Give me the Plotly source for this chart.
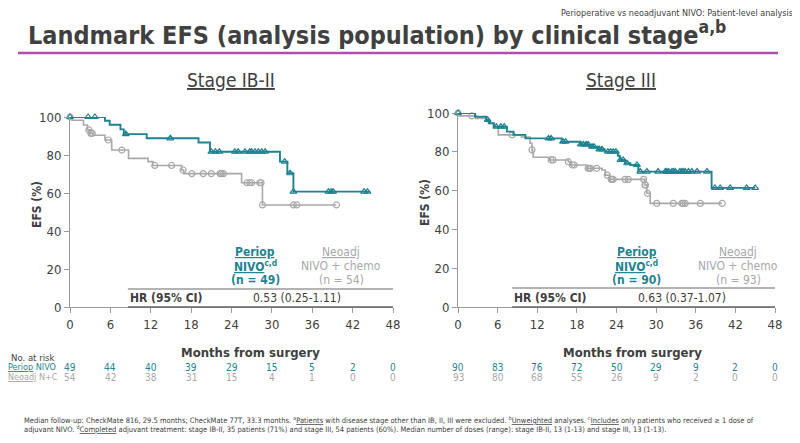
import numpy as np
import plotly.graph_objects as go

# ---------------- data ----------------
risk_times = [0, 6, 12, 18, 24, 30, 36, 42, 48]

# Stage IB-II
periop_l_t = [0, 5.2, 5.9, 7.5, 8.0, 11.4, 19.1, 20.8, 31.2, 32.3, 33.2]
periop_l_s = [100, 98.0, 95.9, 93.5, 91.0, 88.8, 86.6, 81.7, 76.5, 70.4, 60.7]
periop_l_end = 44.6
periop_l_c = [0, 2.7, 3.7, 8.3, 14.9, 21.0, 21.6, 22.2, 24.5, 25.0, 26.0, 26.7, 27.0,
              27.5, 28.0, 28.5, 29.0, 31.9, 32.7, 33.2, 38.4, 38.8, 39.1, 43.7, 44.2]

neo_l_t = [0, 0.3, 2.0, 2.6, 3.0, 3.4, 5.2, 6.2, 8.7, 11.6, 12.3, 16.6, 16.9, 25.5, 28.6]
neo_l_s = [100, 98.3, 95.8, 93.2, 91.4, 90.4, 87.9, 82.6, 78.2, 76.5, 74.5, 72.1, 70.2, 65.4, 53.7]
neo_l_end = 39.6
neo_l_c = [0, 2.8, 3.1, 3.3, 5.7, 7.7, 12.6, 15.1, 16.8, 18.1, 19.8, 21.0, 22.3, 22.5,
           22.8, 26.3, 26.7, 27.0, 28.2, 28.4, 28.6, 33.2, 33.7, 39.6]

periop_l_risk = [49, 44, 40, 39, 29, 15, 5, 2, 0]
neo_l_risk = [54, 42, 38, 31, 15, 4, 1, 0, 0]

# Stage III
periop_r_t = [0, 2.6, 4.3, 4.7, 5.4, 7.4, 8.4, 10.2, 15.7, 18.5, 19.9, 21.2, 22.2,
              24.2, 24.5, 25.3, 26.1, 27.3, 38.4]
periop_r_s = [100, 98.1, 96.4, 94.7, 92.9, 90.4, 88.7, 86.9, 85.2, 83.8, 82.6, 81.3, 80.1,
              78.0, 75.8, 74.1, 73.2, 69.8, 61.4]
periop_r_end = 45.0
periop_r_c = [0, 4.5, 5.8, 6.5, 7.0, 13.7, 14.1, 15.9, 16.3, 18.6, 19.0, 19.4, 19.7, 20.3,
              20.6, 21.4, 21.8, 22.7, 23.1, 23.5, 23.9, 24.6, 25.0, 25.6, 27.1, 27.6, 28.6,
              30.3, 31.4, 31.6, 31.9, 32.4, 32.6, 32.9, 33.6, 33.9, 34.1, 34.4, 34.9, 35.4,
              36.2, 37.7, 38.9, 39.7, 41.2, 43.7, 45.0]

neo_r_t = [0, 0.2, 2.7, 4.3, 4.6, 5.5, 6.1, 9.6, 10.9, 11.2, 11.3, 11.4, 13.9, 16.7, 17.0,
           19.5, 21.8, 22.3, 22.9, 28.3, 28.6, 29.1]
neo_r_s = [100, 98.5, 97.2, 95.9, 94.7, 92.9, 88.7, 87.6, 84.4, 81.0, 79.4, 77.2, 75.8, 74.9,
           73.2, 71.5, 70.6, 68.0, 65.8, 62.9, 58.6, 53.4]
neo_r_end = 40.0
neo_r_c = [0, 2.1, 8.2, 11.2, 14.1, 14.4, 16.7, 17.3, 17.6, 19.7, 19.9, 20.1, 21.0, 22.6,
           23.2, 23.3, 23.5, 25.3, 25.8, 28.1, 28.3, 28.4, 28.7, 30.1, 32.6, 33.9, 34.1,
           34.4, 36.7, 40.0]

periop_r_risk = [90, 83, 76, 72, 50, 29, 9, 2, 0]
neo_r_risk = [93, 80, 68, 55, 26, 9, 2, 0, 0]

# ---------------- style ----------------
PAGE_W, PAGE_H, BODY = 800, 443, 8          # window size and default body margin
W, H = PAGE_W - 2 * BODY, PAGE_H - 2 * BODY
TEAL = "#1E8390"
GRAY = "#A8A8A8"
DARK = "#404040"
FONT = "DejaVu Sans Condensed, DejaVu Sans, sans-serif"


def px(x):
    return (x - BODY) / W


def py(y):
    return 1 - (y - BODY) / H


fig = go.Figure()


def add_km(t, s, end, cens, color, symbol, xa, ya, lw):
    t = np.asarray(t, float)
    s = np.asarray(s, float)
    xs = np.append(t, end)
    ys = np.append(s, s[-1])
    fig.add_trace(go.Scatter(x=xs, y=ys, mode="lines", line=dict(color=color, width=lw, shape="hv"),
                             xaxis=xa, yaxis=ya, cliponaxis=False, showlegend=False, hoverinfo="skip"))
    c = np.asarray(cens, float)
    idx = np.searchsorted(t, c, side="right") - 1
    fig.add_trace(go.Scatter(x=c, y=s[idx], mode="markers",
                             marker=dict(symbol=symbol, size=6, color=color, line=dict(color=color, width=1.2)),
                             xaxis=xa, yaxis=ya, cliponaxis=False, showlegend=False, hoverinfo="skip"))


add_km(neo_l_t, neo_l_s, neo_l_end, neo_l_c, GRAY, "circle-open", "x", "y", 1.6)
add_km(periop_l_t, periop_l_s, periop_l_end, periop_l_c, TEAL, "triangle-up-open", "x", "y", 1.9)
add_km(neo_r_t, neo_r_s, neo_r_end, neo_r_c, GRAY, "circle-open", "x2", "y2", 1.6)
add_km(periop_r_t, periop_r_s, periop_r_end, periop_r_c, TEAL, "triangle-up-open", "x2", "y2", 1.9)

axis_common = dict(showgrid=False, zeroline=False, showline=True, linecolor="#9A9A9A", linewidth=1,
                   ticks="outside", ticklen=5, tickcolor="#9A9A9A",
                   tickfont=dict(family=FONT, size=13, color=DARK))

fig.update_layout(
    width=W, height=H, margin=dict(l=0, r=0, t=0, b=0, autoexpand=False),
    paper_bgcolor="white", plot_bgcolor="white", showlegend=False,
    font=dict(family=FONT, color=DARK),
    xaxis=dict(domain=[px(70), px(393)], range=[0, 48], tickvals=risk_times, anchor="y", **axis_common),
    yaxis=dict(domain=[py(307), py(117)], range=[0, 100], tickvals=[0, 20, 40, 60, 80, 100], anchor="x",
               **axis_common),
    xaxis2=dict(domain=[px(458), px(775)], range=[0, 48], tickvals=risk_times, anchor="y2", **axis_common),
    yaxis2=dict(domain=[py(307), py(113)], range=[0, 100], tickvals=[0, 20, 40, 60, 80, 100], anchor="x2",
                **axis_common),
)

ann = []


def A(text, x, y, size, color=DARK, xanchor="center", yanchor="middle", xref="paper", angle=0):
    ann.append(dict(text=text, x=x, y=y, xref=xref, yref="paper", showarrow=False,
                    xanchor=xanchor, yanchor=yanchor, textangle=angle,
                    font=dict(family=FONT, size=size, color=color)))


# header
A("Perioperative vs neoadjuvant NIVO: Patient-level analysis", px(795), py(13), 9, xanchor="right")
A("<b>Landmark EFS (analysis population) by clinical stage<sup>a,b</sup></b>", px(26), py(34), 25,
  xanchor="left")
A("<u>Stage IB-II</u>", px(231), py(80), 19)
A("<u>Stage III</u>", px(621), py(80), 19)

# axis titles
A("<b>EFS (%)</b>", px(37), py(205), 12, angle=-90)
A("<b>EFS (%)</b>", px(425), py(203), 12, angle=-90)
A("<b>Months from surgery</b>", px(250), py(352), 13)
A("<b>Months from surgery</b>", px(632), py(352), 13)

# HR boxes
for xr, xstart, ytop, hr, nper, nneo, cx_per, cx_neo, cx_hr in [
    ("x", 8.6, 289, "0.53 (0.25-1.11)", 49, 54, 27.5, 40.3, 33.7),
    ("x2", 8.2, 288, "0.63 (0.37-1.07)", 90, 93, 27.1, 42.4, 33.9),
]:
    A("<b><u>Periop</u></b>", cx_per, py(252), 12, TEAL, xref=xr)
    A("<b><u>NIVO</u><sup>c,d</sup></b>", cx_per, py(266), 12, TEAL, xref=xr)
    A(f"<b>(n = {nper})</b>", cx_per, py(280), 12, TEAL, xref=xr)
    A("<u>Neoadj</u>", cx_neo, py(252), 12, GRAY, xref=xr)
    A("NIVO + chemo", cx_neo, py(266), 12, GRAY, xref=xr)
    A(f"(n = {nneo})", cx_neo, py(280), 12, GRAY, xref=xr)
    A("<b>HR (95% CI)</b>", xstart, py(298), 12, DARK, xanchor="left", xref=xr)
    A(hr, cx_hr, py(298), 12, DARK, xref=xr)
    fig.add_shape(type="line", xref=xr, yref="paper", x0=xstart, x1=48, y0=py(ytop), y1=py(ytop),
                  line=dict(color="#9A9A9A", width=1.5))
    fig.add_shape(type="line", xref=xr, yref="paper", x0=xstart, x1=48, y0=py(307), y1=py(307),
                  line=dict(color="#666666", width=1.5))

# at risk table
A("No. at risk", px(33), py(357), 9.5)
A("<u>Periop</u> NIVO", px(6), py(367), 9, TEAL, xanchor="left")
A("<u>Neoadj</u> N+C", px(6), py(377), 9, GRAY, xanchor="left")
for xr, r1, r2 in [("x", periop_l_risk, neo_l_risk), ("x2", periop_r_risk, neo_r_risk)]:
    for tm, a, b in zip(risk_times, r1, r2):
        A(str(a), tm, py(367), 10, TEAL, xref=xr)
        A(str(b), tm, py(377), 10, GRAY, xref=xr)

# footer
A("Median follow-up: CheckMate 816, 29.5 months; CheckMate 77T, 33.3 months. <sup>a</sup><u>Patients</u> with disease "
  "stage other than IB, II, III were excluded. <sup>b</sup><u>Unweighted</u> analyses. <sup>c</sup><u>Includes</u> "
  "only patients who received ≥ 1 dose of", px(22), py(420), 7.5, xanchor="left")
A("adjuvant NIVO. <sup>d</sup><u>Completed</u> adjuvant treatment: stage IB-II, 35 patients (71%) and stage III, "
  "54 patients (60%). Median number of doses (range): stage IB-II, 13 (1-13) and stage III, 13 (1-13).",
  px(22), py(429), 7.5, xanchor="left")

fig.update_layout(annotations=ann)

# purple title rule
fig.add_shape(type="line", xref="paper", yref="paper", x0=px(18), x1=px(778), y0=py(53), y1=py(53),
              line=dict(color="#B24DB0", width=2.5))

fig.write_html("out.html")
